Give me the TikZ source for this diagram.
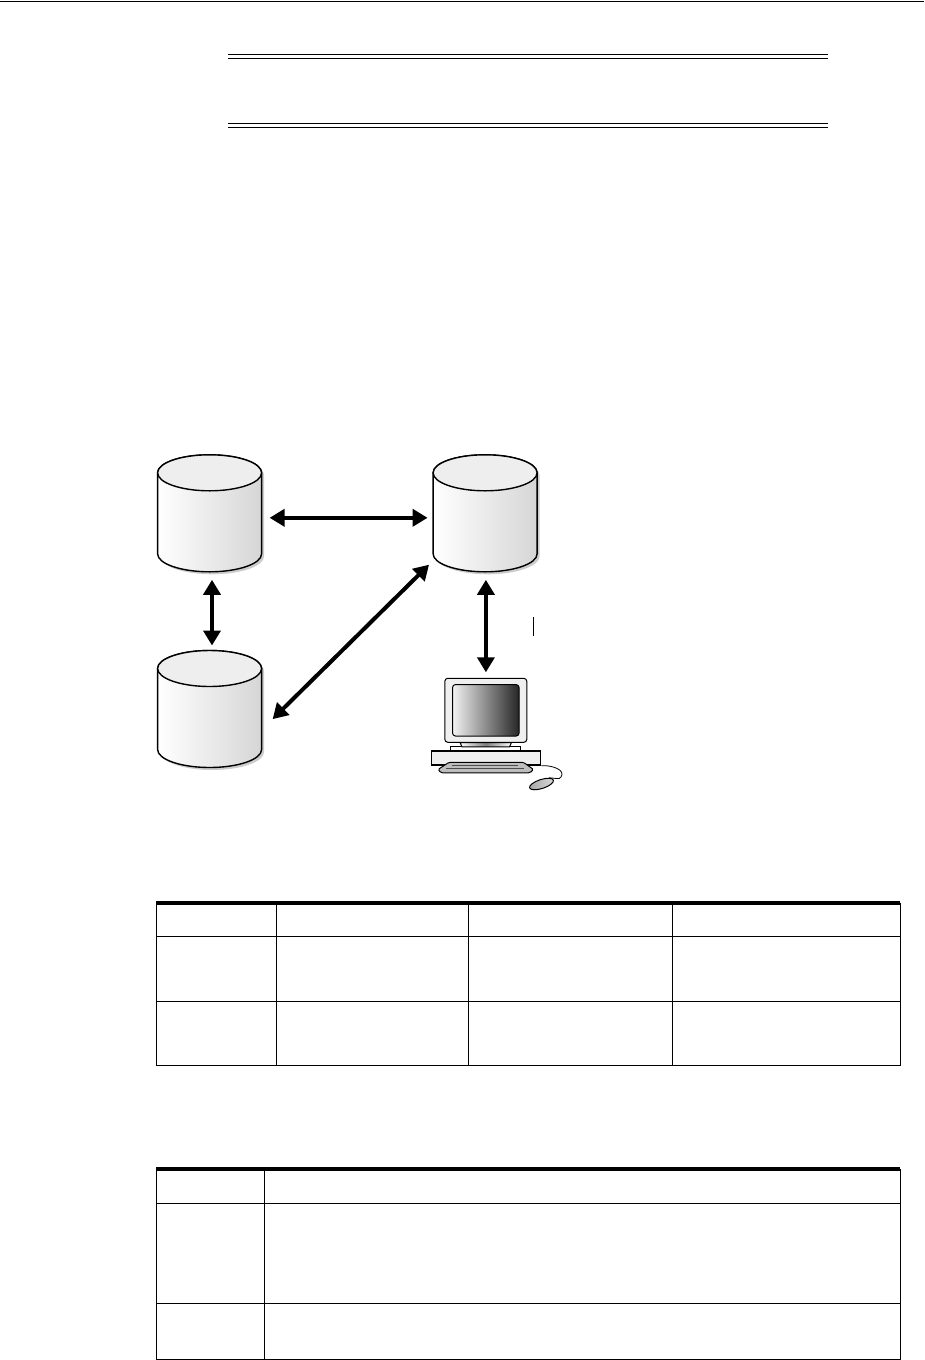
\documentclass[tikz,border=0pt]{standalone}
\usepackage{tikz}
\usetikzlibrary{arrows.meta,positioning,shapes.geometric,shadows}
\usepackage{xcolor}
\definecolor{cdrumtop}{HTML}{EEEEEE}
\definecolor{cdrumside}{HTML}{D6D6D6}
\definecolor{cconsole}{HTML}{EFEFEF}
\definecolor{ckeys}{HTML}{BDBDBD}

\begin{document}
\begin{tikzpicture}[
  x=1pt, y=-1pt,
  drum/.style={minimum width=104pt, minimum height=117pt,
               inner sep=0pt, outer sep=0pt},
  drumwall/.style={draw, line width=1.4pt, left color=white, right color=cdrumside,
               drop shadow={shadow xshift=2.5pt, shadow yshift=-2.5pt,
                            fill=gray, opacity=0.4}},
  drumtop/.style={draw, line width=1.4pt, fill=cdrumtop},
  link/.style={{Triangle[length=15pt,width=17pt]}-{Triangle[length=15pt,width=17pt]},
               line width=4pt},
  monitor/.style={draw, line width=1pt, rounded corners=3pt, fill=cconsole,
                  minimum width=82pt, minimum height=64pt, inner sep=0pt},
  screen/.style={draw, line width=1pt, rounded corners=3pt,
                 left color=white!95!black, right color=black!85,
                 minimum width=66.5pt, minimum height=51.5pt, inner sep=0pt},
  partline/.style={draw, line width=1pt},
  rule/.style={line width=1pt},
  heavyrule/.style={line width=4pt}
]
\useasboundingbox (0,0) rectangle (924,1360);

% page rules
\draw[line width=0.8pt] (0,1) -- (924,1);
\foreach \y in {54.5,58.5,123.5,127.5}
  \draw[rule] (228,\y) -- (827.5,\y);

% databases
\node[drum] (d1) at (209.6,513.3) {};
\node[drum, right=171.5pt of d1] (d2) {};
\node[drum, below=78.7pt of d1] (d3) {};
\foreach \d in {d1,d2,d3} {
  \path[drumwall] ([yshift=-18pt]\d.north west) -- ([yshift=18pt]\d.south west)
    arc[start angle=180, end angle=360, x radius=52pt, y radius=18pt]
    -- ([yshift=-18pt]\d.north east)
    arc[start angle=0, end angle=180, x radius=52pt, y radius=18pt] -- cycle;
  \draw[drumtop] ([yshift=-18pt]\d.north) ellipse [x radius=52pt, y radius=18pt];
}

% client
\node[monitor] (mon) at (485.8,710.3) {};
\node[screen] (scr) at (mon.center) {};
\node[partline, shape=rectangle, minimum width=70pt, minimum height=4.5pt,
      inner sep=0pt, fill=white] (plate) at (485.8,749) {};
\draw[partline, left color=white, right color=white, middle color=gray]
  (460,742.5) -- (511.5,742.5) -- (509.5,746.8) -- (462,746.8) -- cycle;
\node[partline, shape=rectangle, line width=1.3pt, minimum width=109pt,
      minimum height=14pt, inner sep=0pt, fill=cconsole] (console) at (486.2,758) {};
\draw[partline, fill=ckeys, rounded corners=1.5pt]
  (449,762.3) -- (523.5,762.3) -- (533.5,769.5) -- (530,772.8) -- (441,772.8) -- (438,769.5) -- cycle;
\draw[line width=0.4pt, gray!60!black] (452,765.5) -- (518,765.5)
  (446,768.5) -- (524,768.5);
\node[partline, ellipse, rotate=18, minimum width=25pt, minimum height=9pt,
      inner sep=0pt, left color=gray!70, right color=gray!30] (mouse) at (541.5,784) {};
\draw[line width=0.8pt] (console.south east) .. controls (552,765) and (566,770) .. (561,777)
  .. controls (559,780) and (556,778) .. (mouse.north east);

% links
\draw[link, shorten <=8pt, shorten >=5.5pt] ([yshift=-4.5pt]d1.east) -- ([yshift=-4.5pt]d2.west);
\draw[link, shorten <=8pt, shorten >=5pt] ([xshift=2.4pt]d1.south) -- ([xshift=2.4pt]d3.north);
\draw[link, shorten <=15.5pt, shorten >=5.7pt] ([yshift=-21pt]d3.east) -- ([yshift=-47.4pt]d2.west);
\draw[link, shorten <=8pt, shorten >=5.5pt] ([xshift=0.8pt]d2.south) -- ([xshift=0.8pt]d2.south |- mon.north);

% change bar
\coordinate (bartop) at (533.5,617);
\coordinate (barend) at (533.5,636);
\draw[line width=0.8pt] (bartop) -- (barend);

% first table
\draw[heavyrule] (156,903) -- (900,903);
\foreach \y in {936,1001,1065}
  \draw[rule] (156,\y) -- (900,\y);
\foreach \x in {156,276,468.5,672.5,900}
  \draw[rule] (\x,903) -- (\x,1065.5);

% second table
\draw[heavyrule] (156,1169) -- (900,1169);
\foreach \y in {1203.5,1303.5,1359}
  \draw[rule] (156,\y) -- (900,\y);
\foreach \x in {156,264,900}
  \draw[rule] (\x,1169) -- (\x,1359.5);
\end{tikzpicture}
\end{document}
